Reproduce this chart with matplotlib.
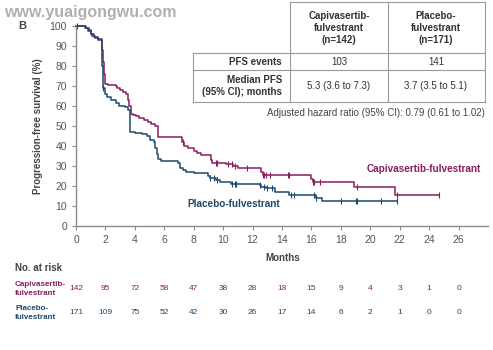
import numpy as np
import matplotlib
matplotlib.use("Agg")
import matplotlib.pyplot as plt
from matplotlib.lines import Line2D
from matplotlib.transforms import blended_transform_factory

plt.rcParams['font.family'] = ['Liberation Sans', 'DejaVu Sans']

# Kaplan-Meier step data (months, % progression-free)
capi_t = [0, 0.7, 0.9, 1.0, 1.1, 1.3, 1.5, 1.75, 1.8, 1.85, 1.9, 1.95, 2.2, 2.7, 2.8, 3.0,
          3.2, 3.4, 3.5, 3.6, 3.75, 3.9, 4.1, 4.3, 4.6, 4.9, 5.1, 5.35, 5.55, 7.2, 7.35,
          7.6, 8.0, 8.2, 8.5, 9.15, 9.25, 10.2, 10.7, 11.0, 12.6, 12.7, 16.0, 16.1, 18.9,
          21.65, 24.7]
capi_s = [100, 99, 98, 96, 95, 94, 93.5, 92, 88, 82, 76, 71, 70.5, 70, 69, 68,
          67, 66, 63, 60, 56, 55.5, 55, 54, 53, 52, 51, 50, 44.3, 42, 40,
          39, 37.5, 36.5, 35.5, 33, 31.7, 31, 30, 29, 27, 25.5, 23.5, 22.2, 19.7,
          15.5, 15.5]
capi_cens = [7.3, 9.5, 9.6, 10.3, 10.6, 10.8, 11.6, 12.7, 12.8, 12.9, 13.2, 14.4, 14.5,
             16.1, 16.2, 16.6, 19.1, 21.8, 24.7]

plac_t = [0, 0.6, 0.8, 1.0, 1.2, 1.5, 1.75, 1.8, 1.85, 1.95, 2.1, 2.4, 2.7, 2.9, 3.3,
          3.55, 3.65, 3.7, 4.0, 4.5, 4.8, 5.0, 5.3, 5.4, 5.5, 5.6, 5.8, 6.9, 7.1, 7.3,
          7.5, 8.0, 9.0, 9.1, 9.5, 9.8, 10.5, 12.5, 12.6, 12.9, 13.5, 14.5, 16.3, 16.75,
          21.8]
plac_s = [100, 99, 97.5, 96, 94.5, 93, 92, 80, 69, 66, 64.5, 63, 61.5, 60, 59.5,
          58, 56, 47, 46.5, 46, 45, 43, 42, 39, 36, 33.5, 32.5, 31.5, 29, 28,
          27, 26.5, 25, 24, 23, 22, 21, 20.5, 19.5, 18.8, 17.2, 15.5, 14, 12.5,
          12.5]
plac_cens = [0.05, 1.85, 9.1, 9.4, 9.6, 10.6, 10.8, 10.9, 12.5, 12.8, 13.0, 13.3, 14.6,
             14.8, 16.2, 16.3, 18.0, 19.0, 19.1, 20.7, 21.8]

risk_months = list(range(0, 27, 2))
capi_risk = [142, 95, 72, 58, 47, 38, 28, 18, 15, 9, 4, 3, 1, 0]
plac_risk = [171, 109, 75, 52, 42, 30, 26, 17, 14, 6, 2, 1, 0, 0]

purple = '#8A1D5E'
blue = '#1D4A6C'
grey_txt = '#444444'
axis_grey = '#8c8c8c'

W, H = 493, 350
fig = plt.figure(figsize=(W / 100, H / 100), dpi=100)


def px(x, y):
    return x / W, 1 - y / H


ax = fig.add_axes([76 / W, 1 - 226 / H, (488 - 76) / W, 200 / H])


def surv_at(times, surv, t):
    i = np.searchsorted(times, t, side='right') - 1
    return surv[max(i, 0)]


for t, s, cens, c in [(capi_t, capi_s, capi_cens, purple), (plac_t, plac_s, plac_cens, blue)]:
    ax.step(t, s, where='post', color=c, lw=1.1, clip_on=False)
    cy = [surv_at(np.array(t), s, x) for x in cens]
    ax.plot(cens, cy, ls='none', marker='|', ms=4, mew=0.8, color=c, clip_on=False)

ax.set_xlim(0, 28)
ax.set_ylim(0, 100)
ax.set_xticks(range(0, 27, 2))
ax.set_yticks(range(0, 101, 10))
for sp in ['top', 'right']:
    ax.spines[sp].set_visible(False)
for sp in ['left', 'bottom']:
    ax.spines[sp].set_color(axis_grey)
    ax.spines[sp].set_linewidth(1.0)
ax.tick_params(colors=axis_grey, labelcolor='#555555', labelsize=7.5, length=3, width=0.8)
ax.set_ylabel('Progression-free survival (%)', fontsize=7, fontweight='bold', color=grey_txt, labelpad=5)

ax.text(19.75, 28.5, 'Capivasertib-fulvestrant', color=purple, fontsize=7.2, fontweight='bold', va='center')
ax.text(7.6, 11, 'Placebo-fulvestrant', color=blue, fontsize=7.2, fontweight='bold', va='center')

fig.text(*px(283, 258), 'Months', fontsize=7, fontweight='bold', color=grey_txt, ha='center', va='center')
fig.text(*px(18, 26), 'B', fontsize=8, fontweight='bold', color=grey_txt, ha='left', va='center')
fig.text(*px(4, 12), 'www.yuaigongwu.com', fontsize=11.5, fontweight='bold', color='#b0b0b0', ha='left', va='center')

# number at risk
fig.text(*px(15, 268), 'No. at risk', fontsize=7, fontweight='bold', color=grey_txt, va='center')
fig.text(*px(15, 289), 'Capivasertib-\nfulvestrant', fontsize=5.8, fontweight='bold', color=purple,
         va='center', linespacing=1.45)
fig.text(*px(15, 313), 'Placebo-\nfulvestrant', fontsize=5.8, fontweight='bold', color=blue,
         va='center', linespacing=1.45)
tr = blended_transform_factory(ax.transData, fig.transFigure)
for m, a, b in zip(risk_months, capi_risk, plac_risk):
    ax.text(m, 1 - 289 / H, str(a), transform=tr, fontsize=6, color=purple, ha='center', va='center')
    ax.text(m, 1 - 313 / H, str(b), transform=tr, fontsize=6, color=blue, ha='center', va='center')

# summary table
lc = '#9a9a9a'
for y, x0 in [(2, 290), (53, 193), (70, 193), (102, 193)]:
    fig.add_artist(Line2D([x0 / W, 485 / W], [1 - y / H] * 2, color=lc, lw=0.8))
for x, y0 in [(193, 53), (290, 2), (388, 2), (485, 2)]:
    fig.add_artist(Line2D([x / W] * 2, [1 - y0 / H, 1 - 102 / H], color=lc, lw=0.8))

tk = dict(fontsize=7, color='#333333', va='center')
fig.text(*px(339, 28), 'Capivasertib-\nfulvestrant\n(n=142)', ha='center', fontweight='bold', linespacing=1.2, **tk)
fig.text(*px(436, 28), 'Placebo-\nfulvestrant\n(n=171)', ha='center', fontweight='bold', linespacing=1.2, **tk)
fig.text(*px(282, 62), 'PFS events', ha='right', fontweight='bold', **tk)
fig.text(*px(339, 62), '103', ha='center', **tk)
fig.text(*px(436, 62), '141', ha='center', **tk)
fig.text(*px(282, 86), 'Median PFS\n(95% CI); months', ha='right', fontweight='bold', linespacing=1.2, **tk)
fig.text(*px(339, 86), '5.3 (3.6 to 7.3)', ha='center', **tk)
fig.text(*px(436, 86), '3.7 (3.5 to 5.1)', ha='center', **tk)
fig.text(*px(485, 113), 'Adjusted hazard ratio (95% CI): 0.79 (0.61 to 1.02)', ha='right',
         fontsize=7, color='#444444', va='center')

fig.savefig('out.png', dpi=100)
